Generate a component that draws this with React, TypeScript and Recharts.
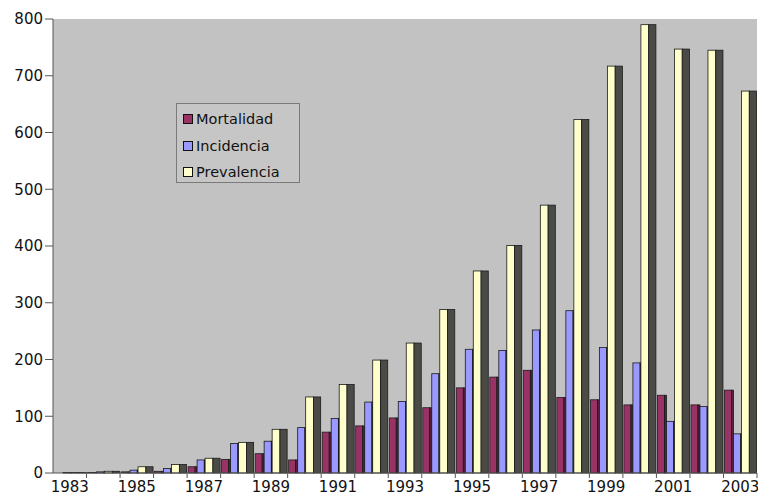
import { BarChart, Bar, XAxis, YAxis, CartesianGrid, Legend } from 'recharts'

// Casos por año, 1983-2003
const YEARS = [
  '1983', '1984', '1985', '1986', '1987', '1988', '1989', '1990', '1991', '1992', '1993',
  '1994', '1995', '1996', '1997', '1998', '1999', '2000', '2001', '2002', '2003',
]
const MORTALIDAD = [0, 1, 2, 3, 11, 24, 34, 23, 72, 83, 97, 115, 150, 169, 181, 133, 129, 120, 137, 120, 146]
const INCIDENCIA = [1, 2, 5, 8, 23, 52, 56, 80, 96, 125, 126, 175, 218, 216, 252, 286, 221, 194, 91, 117, 69]
const PREVALENCIA = [1, 3, 11, 15, 26, 54, 77, 134, 156, 199, 229, 288, 356, 401, 472, 623, 717, 790, 747, 745, 673]
const Y_TICKS = [0, 100, 200, 300, 400, 500, 600, 700, 800]

const SERIES = [
  { key: 'mortalidad', name: 'Mortalidad', color: '#993366', side: '#5c1f3d', size: 9, front: 0.78 },
  { key: 'incidencia', name: 'Incidencia', color: '#9999ff', side: '#6b6bd0', size: 8, front: 0.9 },
  { key: 'prevalencia', name: 'Prevalencia', color: '#ffffcc', side: '#4a4a46', size: 15, front: 0.52 },
]

const data = YEARS.map((year, i) => ({
  year,
  mortalidad: MORTALIDAD[i],
  incidencia: INCIDENCIA[i],
  prevalencia: PREVALENCIA[i],
}))

const W = 758
const H = 496
const Y_AXIS_W = 53
const MARGIN = { top: 19, right: 1, bottom: 0, left: 0 }
const BAND = (W - Y_AXIS_W - MARGIN.left - MARGIN.right) / YEARS.length
const TICK_SIZE = 6
const TICK_MARGIN = 2
const FONT = '"DejaVu Sans", sans-serif'

// front face + dark side face, like the old 3D column look
const make3D = (front: number, side: string) => (props: any) => {
  const { x, y, width, height, fill } = props
  if (!height || height <= 0) return <g />
  const fw = width * front
  return (
    <g>
      <rect x={x} y={y} width={fw} height={height} fill={fill} stroke="#1a1a1a" strokeWidth={0.8} />
      {width - fw > 0.5 && (
        <rect x={x + fw} y={y} width={width - fw} height={height} fill={side} stroke="#1a1a1a" strokeWidth={0.8} />
      )}
    </g>
  )
}

const YearTick = (props: any) => {
  const { x, y, payload, index } = props
  const axisY = y - TICK_SIZE - TICK_MARGIN
  return (
    <g>
      <line x1={x + BAND / 2} x2={x + BAND / 2} y1={axisY} y2={axisY + 5} stroke="#555" />
      {index % 2 === 0 && (
        <text x={x} y={y} dy="0.71em" textAnchor="middle" fontSize={15} fontFamily={FONT} fill="#111">
          {payload.value}
        </text>
      )}
    </g>
  )
}

const LegendBox = () => (
  <div
    style={{
      width: 122,
      height: 76,
      border: '1px solid #7a7a7a',
      background: '#c6c6c6',
      fontFamily: FONT,
      fontSize: 14.5,
      color: '#111',
      boxSizing: 'content-box',
      paddingTop: 2,
    }}
  >
    {SERIES.map((s) => (
      <div key={s.key} style={{ display: 'flex', alignItems: 'center', height: 26.5, paddingLeft: 6 }}>
        <span
          style={{
            display: 'inline-block',
            width: 8,
            height: 8,
            background: s.color,
            border: '1px solid #111',
            marginRight: 3,
          }}
        />
        {s.name}
      </div>
    ))}
  </div>
)

export default function App() {
  return (
    <div style={{ position: 'absolute', left: 0, top: 0, width: W, height: H, background: '#fff' }}>
      <BarChart width={W} height={H} data={data} margin={MARGIN} barGap={0}>
        <CartesianGrid horizontal={false} vertical={false} fill="#c2c2c2" fillOpacity={1} />
        <XAxis
          dataKey="year"
          interval={0}
          height={23}
          tickSize={TICK_SIZE}
          tickMargin={TICK_MARGIN}
          tickLine={false}
          axisLine={{ stroke: '#555' }}
          tick={<YearTick />}
        />
        <YAxis
          width={Y_AXIS_W}
          domain={[0, 800]}
          ticks={Y_TICKS}
          interval={0}
          tickSize={8}
          tickLine={{ stroke: '#555' }}
          axisLine={{ stroke: '#555' }}
          tick={{ fontSize: 15, fontFamily: FONT, fill: '#111' }}
        />
        <Legend
          align="center"
          verticalAlign="middle"
          wrapperStyle={{ left: 176, top: 103, width: 124, height: 80 }}
          content={() => <LegendBox />}
        />
        {SERIES.map((s) => (
          <Bar
            key={s.key}
            dataKey={s.key}
            name={s.name}
            fill={s.color}
            barSize={s.size}
            shape={make3D(s.front, s.side)}
            isAnimationActive={false}
          />
        ))}
      </BarChart>
    </div>
  )
}
